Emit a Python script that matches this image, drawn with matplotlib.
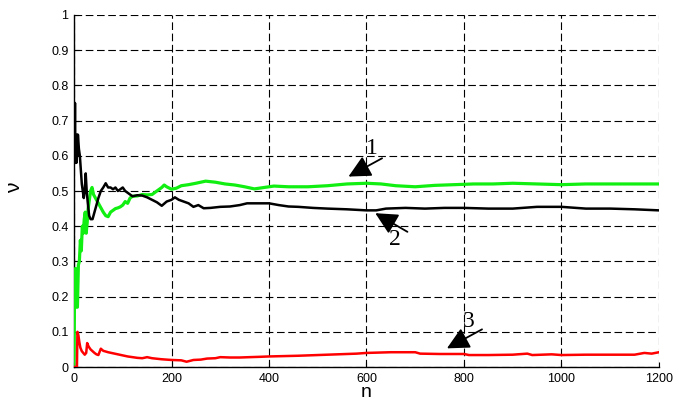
import matplotlib
matplotlib.use("Agg")
import matplotlib.pyplot as plt

# ---- data ----
n1 = [0, 1, 2, 3, 4, 5, 7, 9, 11, 13, 15, 17, 19, 21, 23, 25, 27, 29, 31, 34, 37, 40, 44, 48, 52, 56, 60, 65, 70,
      75, 80, 85, 90, 95, 100, 105, 110, 115, 120, 130, 140, 150, 160, 170, 180, 185, 190, 200, 210, 220, 235, 250,
      270, 290, 310, 330, 350, 370, 390, 410, 440, 480, 520, 560, 600, 630, 660, 700, 740, 780, 820, 860, 900, 950,
      1000, 1050, 1100, 1150, 1200]
v1 = [0.0, 0.2, 0.17, 0.28, 0.2, 0.17, 0.17, 0.29, 0.3, 0.36, 0.33, 0.4, 0.38, 0.42, 0.44, 0.38, 0.41, 0.45, 0.47,
      0.5, 0.51, 0.49, 0.48, 0.47, 0.46, 0.45, 0.44, 0.43, 0.427, 0.44, 0.445, 0.45, 0.452, 0.455, 0.46, 0.47, 0.465,
      0.48, 0.485, 0.486, 0.49, 0.489, 0.49, 0.5, 0.51, 0.517, 0.512, 0.505, 0.508, 0.515, 0.518, 0.522, 0.528, 0.525,
      0.52, 0.517, 0.512, 0.506, 0.51, 0.514, 0.512, 0.512, 0.515, 0.52, 0.522, 0.52, 0.515, 0.512, 0.516, 0.518,
      0.52, 0.52, 0.522, 0.52, 0.518, 0.52, 0.52, 0.52, 0.52]

n2 = [1, 2, 3, 4, 5, 6, 7, 8, 10, 12, 14, 16, 18, 20, 22, 24, 26, 28, 31, 34, 38, 42, 46, 50, 55, 60, 65, 70, 75,
      80, 85, 90, 95, 100, 105, 110, 115, 120, 130, 140, 150, 160, 170, 180, 190, 200, 207, 215, 225, 235, 245, 255,
      266, 280, 300, 320, 340, 355, 380, 400, 420, 440, 460, 490, 520, 560, 600, 620, 640, 680, 720, 760, 800, 850,
      900, 950, 1000, 1050, 1100, 1150, 1200]
v2 = [0.6, 0.75, 0.58, 0.62, 0.58, 0.66, 0.6, 0.66, 0.62, 0.6, 0.56, 0.52, 0.5, 0.48, 0.5, 0.55, 0.5, 0.47, 0.43,
      0.42, 0.42, 0.44, 0.46, 0.48, 0.5, 0.51, 0.522, 0.51, 0.51, 0.505, 0.51, 0.5, 0.505, 0.51, 0.5, 0.495, 0.49,
      0.485, 0.488, 0.487, 0.482, 0.475, 0.468, 0.458, 0.47, 0.475, 0.482, 0.475, 0.47, 0.465, 0.455, 0.46, 0.451,
      0.452, 0.455, 0.456, 0.46, 0.465, 0.465, 0.465, 0.46, 0.456, 0.455, 0.452, 0.45, 0.448, 0.445, 0.445, 0.45,
      0.452, 0.45, 0.452, 0.452, 0.45, 0.45, 0.455, 0.455, 0.45, 0.45, 0.448, 0.445]

n3 = [0, 6, 7, 9, 11, 13, 16, 19, 22, 25, 27, 30, 34, 38, 42, 46, 50, 55, 60, 70, 80, 90, 100, 110, 120, 130, 140,
      150, 160, 180, 200, 220, 231, 245, 260, 273, 290, 300, 320, 340, 360, 382, 400, 430, 460, 500, 540, 580, 600,
      650, 700, 710, 750, 800, 810, 850, 900, 930, 940, 960, 980, 1000, 1050, 1100, 1150, 1170, 1185, 1200]
v3 = [0.0, 0.0, 0.1, 0.09, 0.07, 0.055, 0.045, 0.04, 0.035, 0.04, 0.068, 0.058, 0.05, 0.045, 0.04, 0.036, 0.034,
      0.052, 0.046, 0.042, 0.039, 0.036, 0.033, 0.03, 0.028, 0.026, 0.025, 0.028, 0.025, 0.022, 0.02, 0.019, 0.015,
      0.02, 0.021, 0.024, 0.025, 0.028, 0.027, 0.027, 0.028, 0.029, 0.03, 0.031, 0.032, 0.034, 0.036, 0.038, 0.04,
      0.042, 0.042, 0.038, 0.037, 0.037, 0.034, 0.034, 0.035, 0.038, 0.034, 0.035, 0.036, 0.034, 0.035, 0.035,
      0.035, 0.04, 0.038, 0.042]

x_ticks = [0, 200, 400, 600, 800, 1000, 1200]
y_ticks = [0, 0.1, 0.2, 0.3, 0.4, 0.5, 0.6, 0.7, 0.8, 0.9, 1]
y_tick_labels = ["0", "0.1", "0.2", "0.3", "0.4", "0.5", "0.6", "0.7", "0.8", "0.9", "1"]

labels = ["1", "2", "3"]
label_pos = [(610, 0.622), (659, 0.361), (810, 0.129)]
arrow_tail = [(632, 0.593), (684, 0.384), (837, 0.107)]
arrow_tip = [(563, 0.541), (618, 0.437), (765, 0.053)]

# ---- figure ----
plt.rcParams['font.family'] = ['Liberation Sans', 'DejaVu Sans']
plt.rcParams['lines.scale_dashes'] = False

fig = plt.figure(figsize=(6.79, 4.03), dpi=100)
ax = fig.add_axes([0.109, 0.0893, 0.8615, 0.8735])

ax.plot(n1, v1, color='#11ee11', lw=2.3, zorder=3)
ax.plot(n2, v2, color='black', lw=1.8, zorder=4)
ax.plot(n3, v3, color='#ff0000', lw=1.8, zorder=3)

ax.set_xlim(0, 1200)
ax.set_ylim(0, 1)
ax.set_xticks(x_ticks)
ax.set_yticks(y_ticks)
ax.set_yticklabels(y_tick_labels)
ax.tick_params(direction='in', length=3.5, width=0.8, labelsize=9, pad=4)
ax.grid(True, color='black', linestyle=(0, (5.5, 2.6)), linewidth=0.8)
ax.spines['top'].set_visible(False)
ax.spines['right'].set_visible(False)
for s in ('left', 'bottom'):
    ax.spines[s].set_linewidth(1.0)

ax.set_xlabel('n', fontsize=14)
ax.set_ylabel('ν', fontsize=15)
ax.xaxis.set_label_coords(0.5, -0.048)
ax.yaxis.set_label_coords(-0.085, 0.508)

for lab, p, t, h in zip(labels, label_pos, arrow_tail, arrow_tip):
    ax.text(p[0], p[1], lab, fontsize=17, family=['Liberation Serif', 'DejaVu Serif'],
            ha='center', va='center', zorder=6)
    ax.annotate('', xy=h, xytext=t,
                arrowprops=dict(arrowstyle='-|>,head_length=0.9,head_width=0.45', color='black',
                                lw=1.3, shrinkA=0, shrinkB=0, mutation_scale=15), zorder=6)

fig.savefig('out.png', dpi=100)
